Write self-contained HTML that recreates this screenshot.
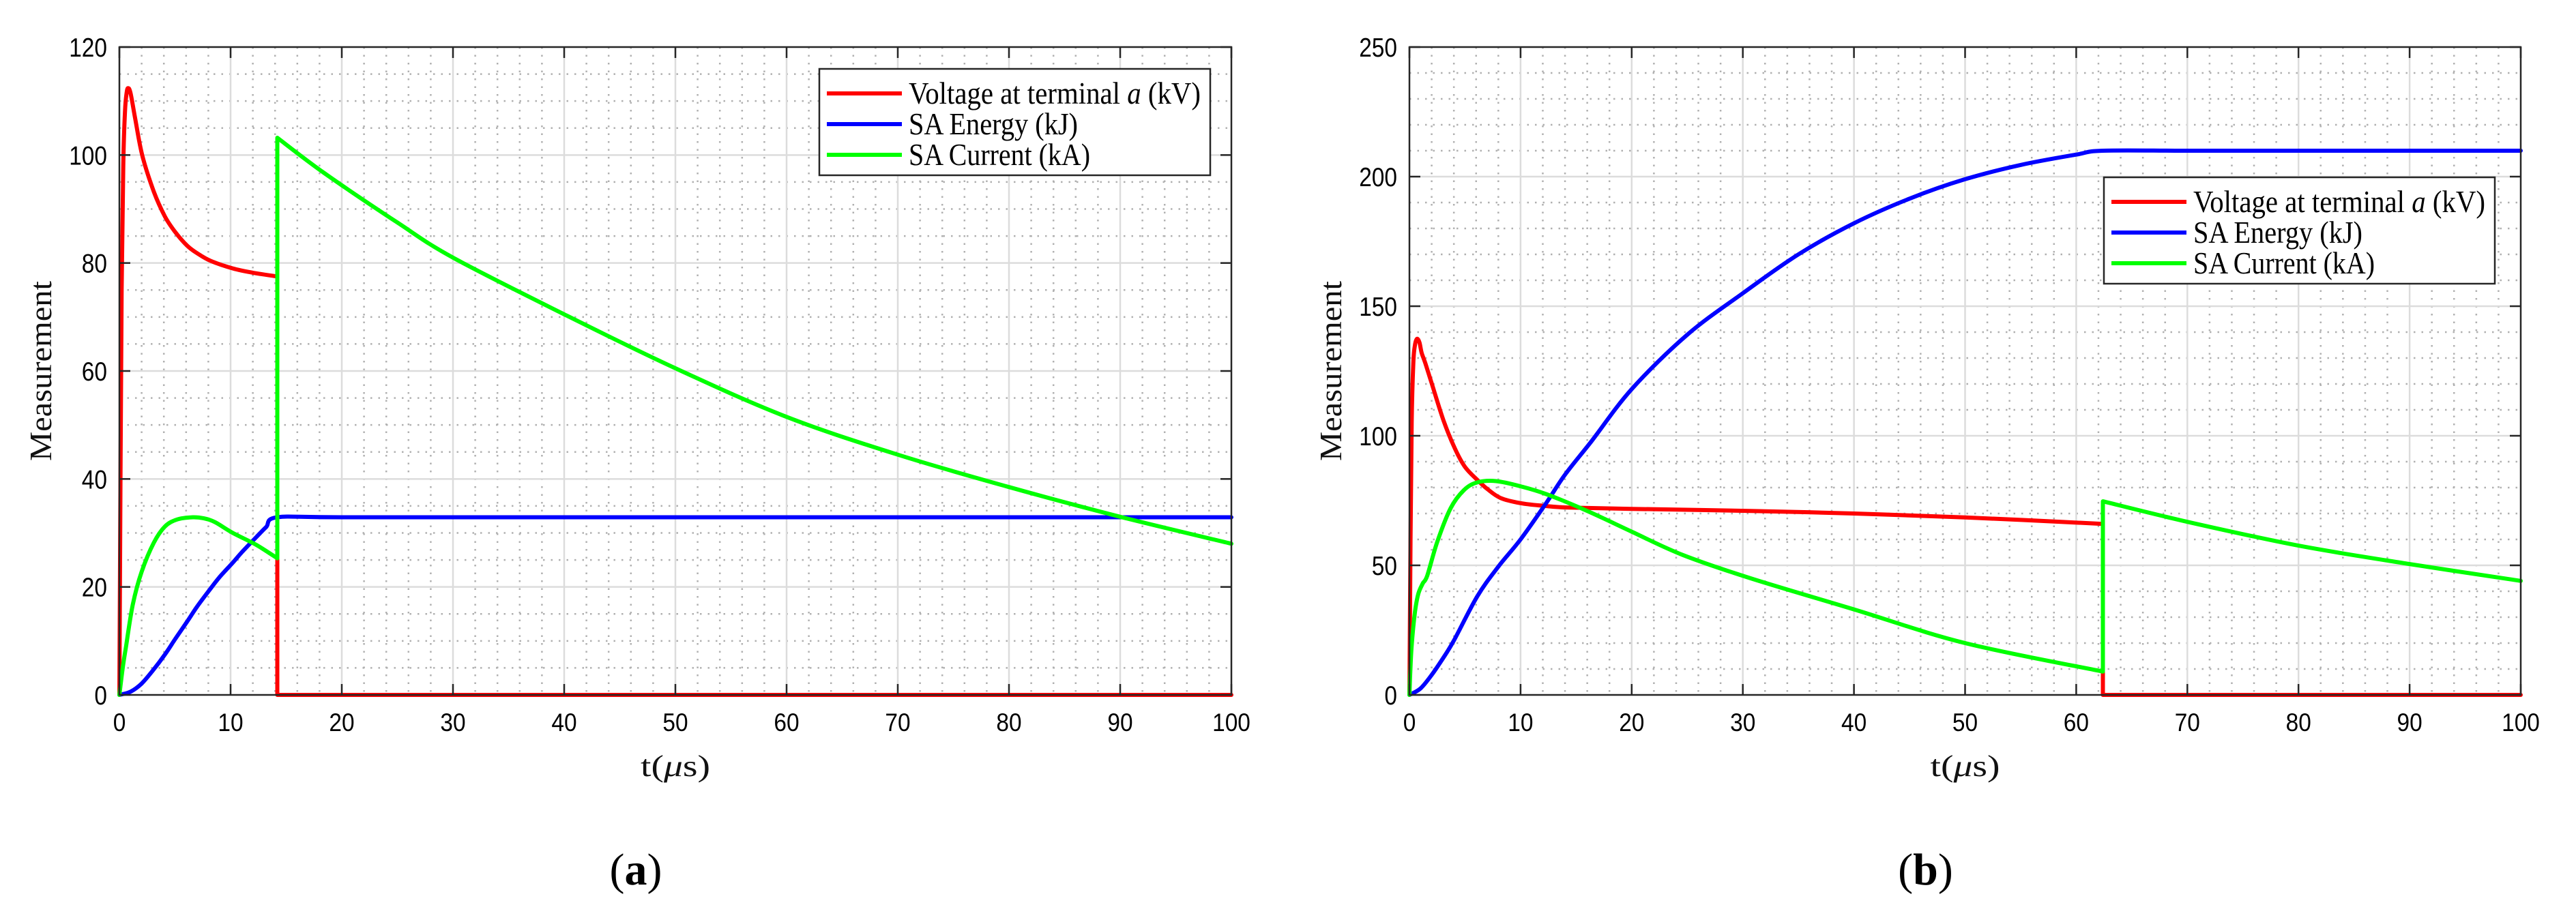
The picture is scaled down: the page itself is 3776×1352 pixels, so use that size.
<!DOCTYPE html>
<html><head><meta charset="utf-8">
<style>
html,body{margin:0;padding:0;background:#fff;}
svg{display:block;}
</style></head>
<body>
<svg id="fig" width="3776" height="1352" viewBox="0 0 3776 1352" xmlns="http://www.w3.org/2000/svg">
  <rect x="0" y="0" width="3776" height="1352" fill="#fff"/>
  <g id="panelA"></g>
  <g id="panelB"></g>
</svg>
<script>
// ---- Panel (a) data ----
const aVoltT = [0,0.1,0.2,0.35,0.5,0.65,0.78,1.0,1.4,2.05,3.1,4.1,5,6.1,7,8.2,10.2,12,14.2,14.2,20,40,60,80,100];
const aVoltV = [0,40,75,98,108,111.5,112.4,111.5,107,100,93.2,88.6,85.8,83.2,81.8,80.4,79,78.2,77.5,0,0,0,0,0,0];
const aEnerT = [0,1,2,3,4.1,5,6.1,7,8.2,9,10.2,11,12.3,13.2,14.2,20,40,60,80,100];
const aEnerV = [0,0.6,2.1,4.5,7.5,10.3,13.6,16.4,19.7,21.8,24.5,26.4,29.2,31.1,32.9,32.9,32.9,32.9,32.9,32.9];
const aCurT = [0,0.3,0.6,1.2,2,3.1,4.1,5.2,6.6,7.6,8.6,10.2,12.3,14.2,14.2,18.4,25,30,40,50,60,70,80,90,100];
const aCurV = [0,5,9,16.7,22.8,28.2,31.2,32.5,32.9,32.7,32,30,27.8,25.3,103.2,96.7,87.5,81,70.5,60.5,51.5,44.5,38.5,33,28];
// ---- Panel (b) data ----
const bVoltT = [0,0.1,0.2,0.35,0.5,0.68,0.9,1.1,1.43,2.05,3.1,4.1,5,6.1,7,8.2,10,12,14.3,20,30.7,40,50,62.4,62.4,70,80,90,100];
const bVoltV = [0,60,105,128,135,137.4,136,132,128,119.6,105.5,95,88,83,79.5,76,74,73,72.3,71.8,71,70,68.5,66,0,0,0,0,0];
const bEnerT = [0,1,2,3,4,6.1,8,10,12.3,14,16.4,20,25,30,35,40,45,50,55,60,62.4,70,80,90,100];
const bEnerV = [0,2.5,7.7,14,21,38,49.5,60,74,85,98,118,139,155,170,182,191.5,199,204.5,208.5,210,210,210,210,210];
const bCurT = [0,0.07,0.2,0.5,0.8,1.2,1.6,2.5,3.7,4.9,6.1,7.8,10,12.3,16,20,24.6,30.7,40,50,62.4,62.4,70,80,90,100];
const bCurV = [0,8,19,32,39,43,46,59,72,79,82,82.5,80.5,77.5,71,63,54,45,33,20,9,74.7,66.8,57.6,50.5,44];
// ---- tick labels ----
const xTicks = [0,10,20,30,40,50,60,70,80,90,100];
const aYTicks = [0,20,40,60,80,100,120];
const bYTicks = [0,50,100,150,200,250];
const legendLabels = ["Voltage at terminal ", "SA Energy (kJ)", "SA Current (kA)"];

const NS = "http://www.w3.org/2000/svg";
function mk(parent, tag, attrs){
  const e = document.createElementNS(NS, tag);
  for (const k in attrs) e.setAttribute(k, attrs[k]);
  parent.appendChild(e); return e;
}

function smoothPath(P){
  let d = '';
  const segs = []; let cur = [P[0]];
  for (let i=1;i<P.length;i++){
    if (Math.abs(P[i][0]-P[i-1][0])<0.01){ segs.push(cur); cur=[P[i-1],P[i]]; segs.push(cur); cur=[P[i]]; }
    else cur.push(P[i]);
  }
  segs.push(cur);
  let first = true;
  segs.forEach(s=>{
    if (s.length<2) return;
    if (first){ d += 'M'+s[0][0].toFixed(1)+','+s[0][1].toFixed(1); first=false; }
    else d += 'L'+s[0][0].toFixed(1)+','+s[0][1].toFixed(1);
    if (s.length===2 && Math.abs(s[0][0]-s[1][0])<0.01){ d += 'L'+s[1][0].toFixed(1)+','+s[1][1].toFixed(1); return; }
    for (let i=0;i<s.length-1;i++){
      const p0=s[Math.max(0,i-1)], p1=s[i], p2=s[i+1], p3=s[Math.min(s.length-1,i+2)];
      const c1x=p1[0]+(p2[0]-p0[0])/6, c1y=p1[1]+(p2[1]-p0[1])/6;
      const c2x=p2[0]-(p3[0]-p1[0])/6, c2y=p2[1]-(p3[1]-p1[1])/6;
      d += 'C'+c1x.toFixed(1)+','+c1y.toFixed(1)+' '+c2x.toFixed(1)+','+c2y.toFixed(1)+' '+p2[0].toFixed(1)+','+p2[1].toFixed(1);
    }
  });
  return d;
}

function drawPanel(g, cfg){
  const L=cfg.left, R=cfg.right, T=69, B=1019;
  const xs = t => L + (t - 0) / 100 * (R - L);
  const ys = v => B - v / cfg.ymax * (B - T);
  for (let t=2; t<100; t+=2){ if (t%10===0) continue;
    const ln = mk(g,'line',{x1:xs(t),x2:xs(t),y1:T,y2:B,stroke:'#b0b0b0','stroke-width':2.5,'stroke-dasharray':'2.5 9'});
      }
  for (let v=cfg.minor; v<cfg.ymax; v+=cfg.minor){ if (Math.abs(v % cfg.major) < 1e-6) continue;
    const ln = mk(g,'line',{x1:L,x2:R,y1:ys(v),y2:ys(v),stroke:'#b0b0b0','stroke-width':2.5,'stroke-dasharray':'2.5 9'});
      }
  xTicks.forEach(t=>{ if (t===0||t===100) return;
    const ln = mk(g,'line',{x1:xs(t),x2:xs(t),y1:T,y2:B,stroke:'#dcdcdc','stroke-width':2.5});
      });
  cfg.yTicks.forEach(v=>{ if (v===0||v===cfg.ymax) return;
    const ln = mk(g,'line',{x1:L,x2:R,y1:ys(v),y2:ys(v),stroke:'#dcdcdc','stroke-width':2.5});
      });
  const series = [
    [cfg.curT, cfg.curV, '#00ff00', 'current-line'],
    [cfg.enerT, cfg.enerV, '#0000ff', 'energy-line'],
    [cfg.voltT, cfg.voltV, '#ff0000', 'voltage-line']
  ];
  cfg.order.forEach(i=>{
    const [tt, vv, col, nm] = series[i];
    const P = tt.map((t,k)=>[xs(t), ys(vv[k])]);
    const pl = mk(g,'path',{d:smoothPath(P),fill:'none',stroke:col,'stroke-width':6,'stroke-linejoin':'round','stroke-linecap':'round'});
    
    
  });
  const box = mk(g,'rect',{x:L,y:T,width:R-L,height:B-T,fill:'none',stroke:'#262626','stroke-width':2.5});
   
  xTicks.forEach(t=>{
    mk(g,'line',{x1:xs(t),x2:xs(t),y1:B,y2:B-16,stroke:'#262626','stroke-width':2.5});
    mk(g,'line',{x1:xs(t),x2:xs(t),y1:T,y2:T+16,stroke:'#262626','stroke-width':2.5});
    const s = String(t);
    const tx = mk(g,'text',{x:xs(t),y:1072,'text-anchor':'middle','font-family':'Liberation Sans, sans-serif','font-size':37,fill:'#000',textLength:18.6*s.length,lengthAdjust:'spacingAndGlyphs'});
    tx.textContent = s;
     
  });
  cfg.yTicks.forEach(v=>{
    mk(g,'line',{x1:L,x2:L+16,y1:ys(v),y2:ys(v),stroke:'#262626','stroke-width':2.5});
    mk(g,'line',{x1:R,x2:R-16,y1:ys(v),y2:ys(v),stroke:'#262626','stroke-width':2.5});
    const s = String(v);
    const tx = mk(g,'text',{x:L-18,y:ys(v)+14,'text-anchor':'end','font-family':'Liberation Sans, sans-serif','font-size':39,fill:'#000',textLength:18.6*s.length,lengthAdjust:'spacingAndGlyphs'});
    tx.textContent = s;
     
  });
  const cx = (L+R)/2;
  const xt = mk(g,'text',{x:cx,y:1138,'text-anchor':'middle','font-family':'Liberation Serif, serif','font-size':44,fill:'#111',textLength:102,lengthAdjust:'spacingAndGlyphs'});
  xt.innerHTML = 't(<tspan font-style="italic">μ</tspan>s)';
   
  const yt = mk(g,'text',{x:0,y:0,'text-anchor':'middle','font-family':'Liberation Serif, serif','font-size':46,fill:'#111',textLength:264,lengthAdjust:'spacingAndGlyphs',transform:`translate(${L-100},544) rotate(-90)`});
  yt.textContent = 'Measurement';
   
  const lg = mk(g,'g',{});
   
  const lx = cfg.legX, ly = cfg.legY;
  mk(lg,'rect',{x:lx,y:ly,width:573,height:156,fill:'#fff',stroke:'#262626','stroke-width':2.5});
  const cols = ['#ff0000','#0000ff','#00ff00'];
  const widths = [428,248,266];
  legendLabels.forEach((lab,i)=>{
    const yy = ly + 36 + i*45;
    const sw = mk(lg,'line',{x1:lx+11,x2:lx+121,y1:yy,y2:yy,stroke:cols[i],'stroke-width':6});
     
    const tx = mk(lg,'text',{x:lx+131,y:yy+15,'font-family':'Liberation Serif, serif','font-size':45,fill:'#000',textLength:widths[i],lengthAdjust:'spacingAndGlyphs'});
    if (i===0) tx.innerHTML = 'Voltage at terminal <tspan font-style="italic">a</tspan> (kV)';
    else tx.textContent = lab;
     
  });
  const cap = mk(g,'text',{x:cx-58,y:1297,'text-anchor':'middle','font-family':'Liberation Serif, serif','font-size':66,fill:'#000'});
  cap.innerHTML = '(<tspan font-weight="bold">'+cfg.caption+'</tspan>)';
   
}

drawPanel(document.getElementById('panelA'), {
  left:175, right:1805, ymax:120, major:20, minor:5, yTicks:aYTicks,
  voltT:aVoltT, voltV:aVoltV, enerT:aEnerT, enerV:aEnerV, curT:aCurT, curV:aCurV,
  order:[2,1,0], legX:1201, legY:101, caption:'a'
});
drawPanel(document.getElementById('panelB'), {
  left:2066, right:3695, ymax:250, major:50, minor:10, yTicks:bYTicks,
  voltT:bVoltT, voltV:bVoltV, enerT:bEnerT, enerV:bEnerV, curT:bCurT, curV:bCurV,
  order:[2,1,0], legX:3084, legY:260, caption:'b'
});
</script>
</body></html>
